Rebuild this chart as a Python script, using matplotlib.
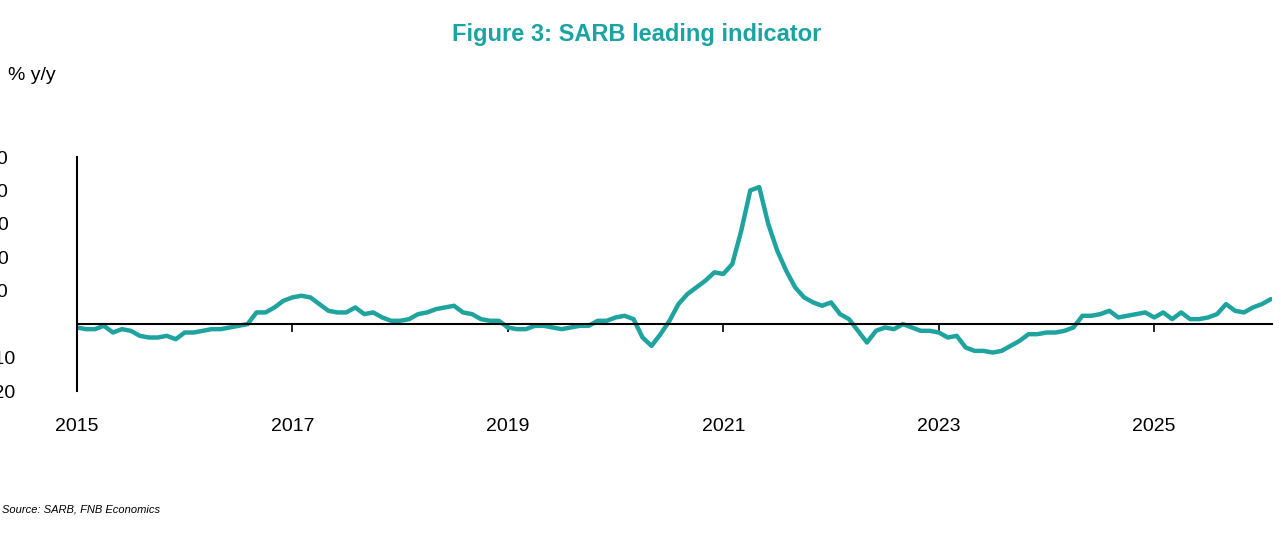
import matplotlib
matplotlib.use("Agg")
import matplotlib.pyplot as plt
import numpy as np

plt.rcParams['font.family'] = ['Liberation Sans', 'DejaVu Sans']

years = [2015, 2017, 2019, 2021, 2023, 2025]
yticks = [-20, -10, 0, 10, 20, 30, 40, 50]
start_year = 2015
values = [
 -1,-1.5,-1.5,-0.5,-2.5,-1.5,-2,-3.5,-4,-4,-3.5,-4.5,
 -2.5,-2.5,-2,-1.5,-1.5,-1,-0.5,0,3.5,3.5,5,7,
 8,8.5,8,6,4,3.5,3.5,5,3,3.5,2,1,
 1,1.5,3,3.5,4.5,5,5.5,3.5,3,1.5,1,1,
 -1,-1.5,-1.5,-0.5,-0.5,-1,-1.5,-1,-0.5,-0.5,1,1,
 2,2.5,1.5,-4,-6.5,-3,1,6,9,11,13,15.5,
 15,18,28,40,41,30,22,16,11,8,6.5,5.5,
 6.5,3,1.5,-2,-5.5,-2,-1,-1.5,0,-1,-2,-2,
 -2.5,-4,-3.5,-7,-8,-8,-8.5,-8,-6.5,-5,-3,-3,
 -2.5,-2.5,-2,-1,2.5,2.5,3,4,2,2.5,3,3.5,
 2,3.5,1.5,3.5,1.5,1.5,2,3,6,4,3.5,5,
 6,7.5]

x = start_year + np.arange(len(values)) / 12.0
teal = "#1fa39f"

fig = plt.figure(figsize=(12.81, 5.45), dpi=100)
ax = fig.add_axes([77/1281, 1-391/545, (1272-77)/1281, (391-157)/545])
ax.plot(x, values, color=teal, lw=3.2, solid_capstyle="round", solid_joinstyle="round")
ax.set_xlim(2015, x[-1] + 0.01)
ax.set_ylim(-20, 50)
for s in ["top", "right"]:
    ax.spines[s].set_visible(False)
ax.spines["bottom"].set_position(("data", 0))
ax.spines["left"].set_linewidth(1.5)
ax.spines["bottom"].set_linewidth(1.5)
ax.set_yticks(yticks)
ax.set_yticklabels([str(v) for v in yticks], ha="left")
ax.tick_params(axis="y", length=0, labelsize=14, pad=65)
ax.set_xticks(years)
ax.set_xticklabels([])
ax.tick_params(axis="x", direction="out", length=6, width=1.2)
for yr in years:
    ax.text(yr, -30.5, str(yr), ha="center", va="center", fontsize=14)
fig.text(8/1281, 1-76/545, "% y/y", fontsize=14, va="center")
fig.text(637/1281, 1-34/545, "Figure 3: SARB leading indicator", color="#1aa3a3",
         fontsize=17, fontweight="bold", ha="center", va="center")
fig.text(2/1281, 1-510/545, "Source: SARB, FNB Economics", fontsize=8, style="italic", va="center")
fig.savefig("out.png", dpi=100)
